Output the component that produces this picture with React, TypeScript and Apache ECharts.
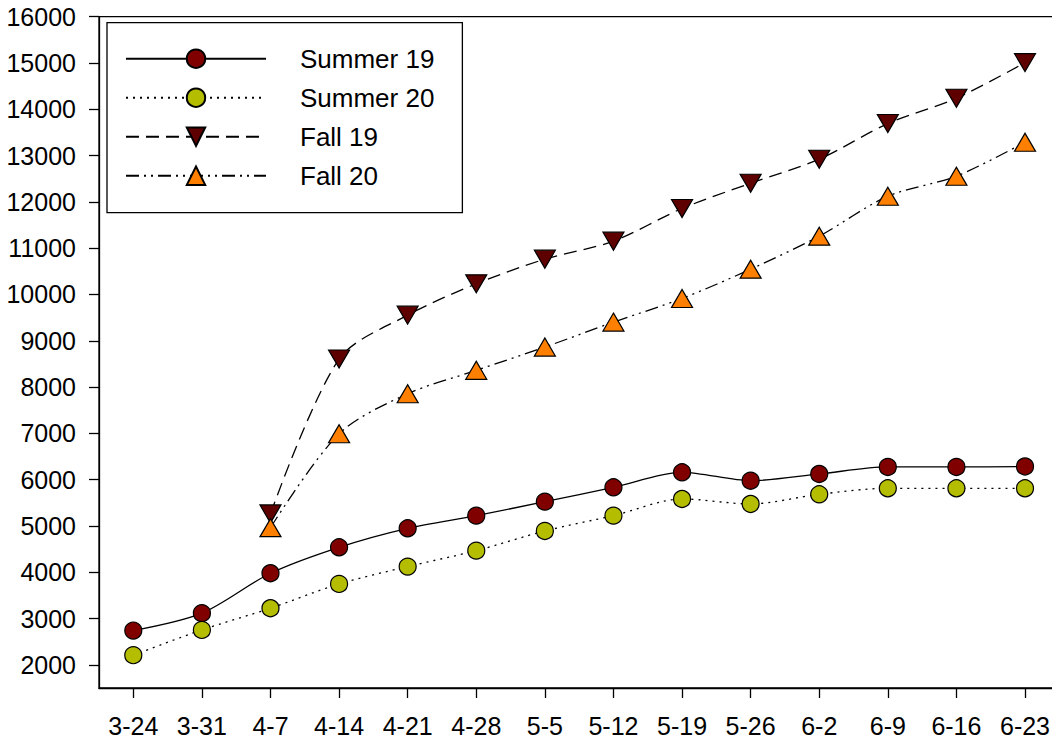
import React, { useEffect, useRef } from "react";
import * as echarts from "echarts";

const categories = ["3-24", "3-31", "4-7", "4-14", "4-21", "4-28", "5-5", "5-12", "5-19", "5-26", "6-2", "6-9", "6-16", "6-23"];
const summer19 = [2740, 3116, 3979, 4540, 4950, 5223, 5525, 5835, 6159, 5978, 6123, 6275, 6275, 6285];
const summer20 = [2209, 2755, 3223, 3748, 4122, 4467, 4892, 5223, 5583, 5475, 5684, 5814, 5814, 5814];
const fall19 = [null, null, 5260, 8605, 9554, 10230, 10763, 11152, 11857, 12404, 12922, 13692, 14238, 15008];
const fall20 = [null, null, 4964, 6993, 7856, 8361, 8864, 9403, 9914, 10547, 11260, 12123, 12555, 13289];
const yTicks = [2000, 3000, 4000, 5000, 6000, 7000, 8000, 9000, 10000, 11000, 12000, 13000, 14000, 15000, 16000];
const seriesNames = ["Summer 19", "Summer 20", "Fall 19", "Fall 20"];

const FONT = "'Liberation Sans', Arial, sans-serif";

export default function App() {
  const ref = useRef<HTMLDivElement>(null);
  useEffect(() => {
    if (!ref.current) return;
    const chart = echarts.init(ref.current, null, { renderer: "svg" });
    const lineBase = { color: "#000", width: 1.3 };
    chart.setOption({
      animation: false,
      backgroundColor: "#fff",
      textStyle: { fontFamily: FONT },
      grid: {
        left: 99,
        top: 16.7,
        right: 10.7,
        bottom: 54,
        show: true,
        borderColor: "#000",
        borderWidth: 1.3,
        backgroundColor: "transparent",
        outerBoundsMode: "none",
      },
      legend: {
        orient: "vertical",
        left: 107,
        top: 22.7,
        padding: [23, 28, 24, 18],
        itemWidth: 140,
        itemHeight: 23,
        itemGap: 13,
        borderColor: "#000",
        borderWidth: 1.3,
        backgroundColor: "#fff",
        textStyle: { fontSize: 26, color: "#000", fontFamily: FONT, padding: [0, 0, 0, 29] },
        data: seriesNames,
      },
      xAxis: {
        type: "category",
        data: categories,
        boundaryGap: true,
        axisLine: { show: true, lineStyle: { color: "#000", width: 1.3 } },
        axisTick: { show: true, alignWithLabel: true, length: 10, lineStyle: { color: "#000", width: 1.3 } },
        axisLabel: { fontSize: 25, color: "#000", fontFamily: FONT, margin: 25, interval: 0 },
        splitLine: { show: false },
      },
      yAxis: {
        type: "value",
        min: 1500,
        max: 16000,
        axisLine: { show: true, lineStyle: { color: "#000", width: 1.3 } },
        axisTick: { show: true, length: 10, customValues: yTicks, lineStyle: { color: "#000", width: 1.3 } },
        axisLabel: {
          fontSize: 25,
          color: "#000",
          fontFamily: FONT,
          margin: 23,
          customValues: yTicks,
          formatter: (v: number) => String(v),
        },
        splitLine: { show: false },
      },
      series: [
        {
          name: seriesNames[0],
          type: "line",
          data: summer19,
          smooth: 0.3,
          symbol: "circle",
          symbolSize: 17,
          lineStyle: { ...lineBase, type: "solid" },
          itemStyle: { color: "#800000", borderColor: "#000", borderWidth: 1.2 },
        },
        {
          name: seriesNames[1],
          type: "line",
          data: summer20,
          smooth: 0.3,
          symbol: "circle",
          symbolSize: 17,
          lineStyle: { ...lineBase, type: [2, 5] },
          itemStyle: { color: "#b5bd00", borderColor: "#000", borderWidth: 1.2 },
        },
        {
          name: seriesNames[2],
          type: "line",
          data: fall19,
          smooth: 0.3,
          symbol: "triangle",
          symbolRotate: 180,
          symbolSize: [21, 18],
          lineStyle: { ...lineBase, type: [13, 7] },
          itemStyle: { color: "#5e0000", borderColor: "#000", borderWidth: 1.2 },
        },
        {
          name: seriesNames[3],
          type: "line",
          data: fall20,
          smooth: 0.3,
          symbol: "triangle",
          symbolSize: [21, 18],
          lineStyle: { ...lineBase, type: [13, 5, 2, 5, 2, 5] },
          itemStyle: { color: "#ff8000", borderColor: "#000", borderWidth: 1.2 },
        },
      ],
    });
    return () => chart.dispose();
  }, []);
  return (
    <div style={{ position: "fixed", left: 0, top: 0, width: 1052, height: 742, overflow: "hidden", background: "#fff" }}>
      <div ref={ref} style={{ width: 1070, height: 742 }} />
    </div>
  );
}
